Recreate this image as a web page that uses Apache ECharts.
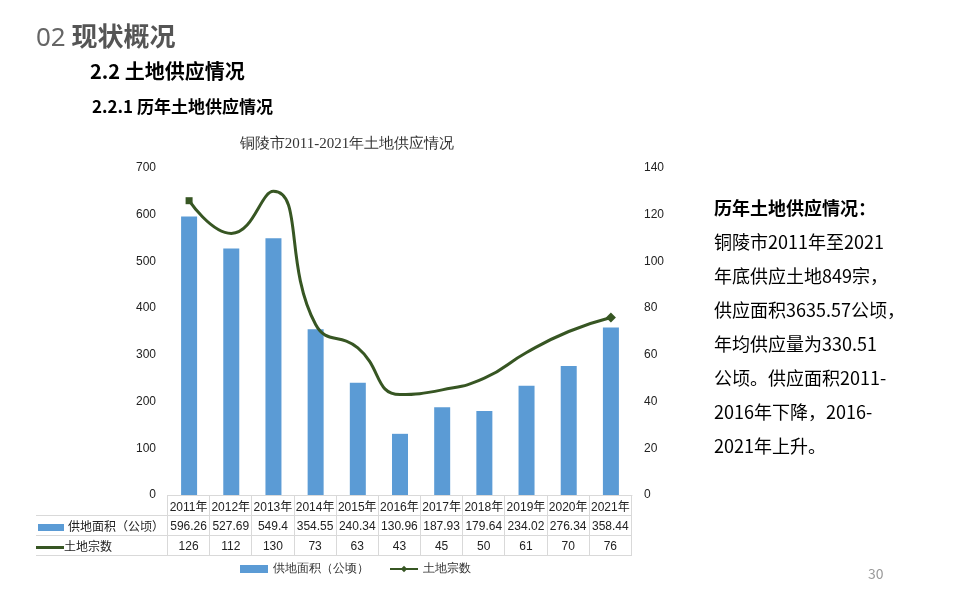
<!DOCTYPE html>
<html><head><meta charset="utf-8">
<script src="https://cdn.jsdelivr.net/npm/echarts@6/dist/echarts.min.js"></script>
<style>
body{margin:0;background:#fff;font-family:"Noto Sans CJK SC",sans-serif;}
#c{position:absolute;left:0;top:0;width:960px;height:600px;}
.t{position:absolute;white-space:nowrap;}
table{position:absolute;left:36px;top:495px;border-collapse:collapse;font-size:12px;color:#222;font-family:"Liberation Sans","Noto Sans CJK SC",sans-serif;}
td{border:1px solid #d9d9d9;height:19px;padding:0;text-align:center;}
</style></head><body>
<div id="c"></div>
<div class="t" style="left:36px;top:16px;font-size:26px;color:#666"><span style="font-family:'Noto Sans'">02</span> <b style="color:#555">现状概况</b></div>
<div class="t" style="left:90px;top:56px;font-size:20px;font-weight:bold;color:#000">2.2 土地供应情况</div>
<div class="t" style="left:92px;top:93px;font-size:17px;font-weight:bold;color:#000">2.2.1 历年土地供应情况</div>
<div class="t" style="left:714px;top:190px;font-size:18px;line-height:34px;color:#000"><b>历年土地供应情况：</b><br>铜陵市2011年至2021<br>年底供应土地849宗，<br>供应面积3635.57公顷，<br>年均供应量为330.51<br>公顷。供应面积2011-<br>2016年下降，2016-<br>2021年上升。</div>
<div class="t" style="left:868px;top:563px;font-size:14px;color:#999">30</div>
<table id="tb"></table>
<script>
const years = ['2011年','2012年','2013年','2014年','2015年','2016年','2017年','2018年','2019年','2020年','2021年'];
const area = [596.26,527.69,549.4,354.55,240.34,130.96,187.93,179.64,234.02,276.34,358.44];
const count = [126,112,130,73,63,43,45,50,61,70,76];

const colW = 464 / years.length;
let h = '<tr><td style="border:none;border-right:1px solid #d9d9d9;width:131px"></td>' + years.map(y => `<td style="width:${colW-1}px">${y}</td>`).join('') + '</tr>';
h += '<tr><td style="text-align:left;border-left:none"><span style="display:inline-block;width:26px;height:7px;background:#5b9bd5;margin:0 4px 0 2px"></span>供地面积（公顷）</td>' + area.map(v => `<td>${v}</td>`).join('') + '</tr>';
h += '<tr><td style="text-align:left;border-left:none"><span style="display:inline-block;width:28px;height:3px;background:#375623;vertical-align:middle"></span>土地宗数</td>' + count.map(v => `<td>${v}</td>`).join('') + '</tr>';
document.getElementById('tb').innerHTML = h;

const chart = echarts.init(document.getElementById('c'));
chart.setOption({
  animation: false,
  title: {text: '铜陵市2011-2021年土地供应情况', left: 342, top: 132, textAlign: 'center',
    textStyle: {fontFamily: 'serif', fontWeight: 'normal', fontSize: 15, color: '#333'}},
  grid: {left: 168, right: 328, top: 168, bottom: 105},
  legend: {bottom: 20, left: 235, itemGap: 20, textStyle: {fontSize: 12, color: '#333'},
    data: [{name: '供地面积（公顷）', icon: 'rect'}, {name: '土地宗数'}], itemWidth: 28, itemHeight: 8},
  xAxis: {type: 'category', data: years, axisLabel: {show: false}, axisTick: {show: false},
    axisLine: {lineStyle: {color: '#d9d9d9'}}},
  yAxis: [
    {type: 'value', min: 0, max: 700, interval: 100, splitLine: {show: false},
      axisLabel: {color: '#222', fontSize: 12, margin: 12}},
    {type: 'value', min: 0, max: 140, interval: 20, splitLine: {show: false},
      axisLabel: {color: '#222', fontSize: 12, margin: 12}}
  ],
  series: [
    {name: '供地面积（公顷）', type: 'bar', data: area, barWidth: 16, itemStyle: {color: '#5b9bd5'}},
    {name: '土地宗数', type: 'line', yAxisIndex: 1, smooth: 0.5, symbol: 'diamond', symbolSize: 9,
      data: count.map((v, i) => ({value: v, symbol: (i === 0 ? 'rect' : i === count.length - 1 ? 'diamond' : 'none'), symbolSize: i === 0 ? 7 : 10})),
      lineStyle: {color: '#375623', width: 3}, itemStyle: {color: '#375623'}}
  ]
});
</script>
</body></html>
